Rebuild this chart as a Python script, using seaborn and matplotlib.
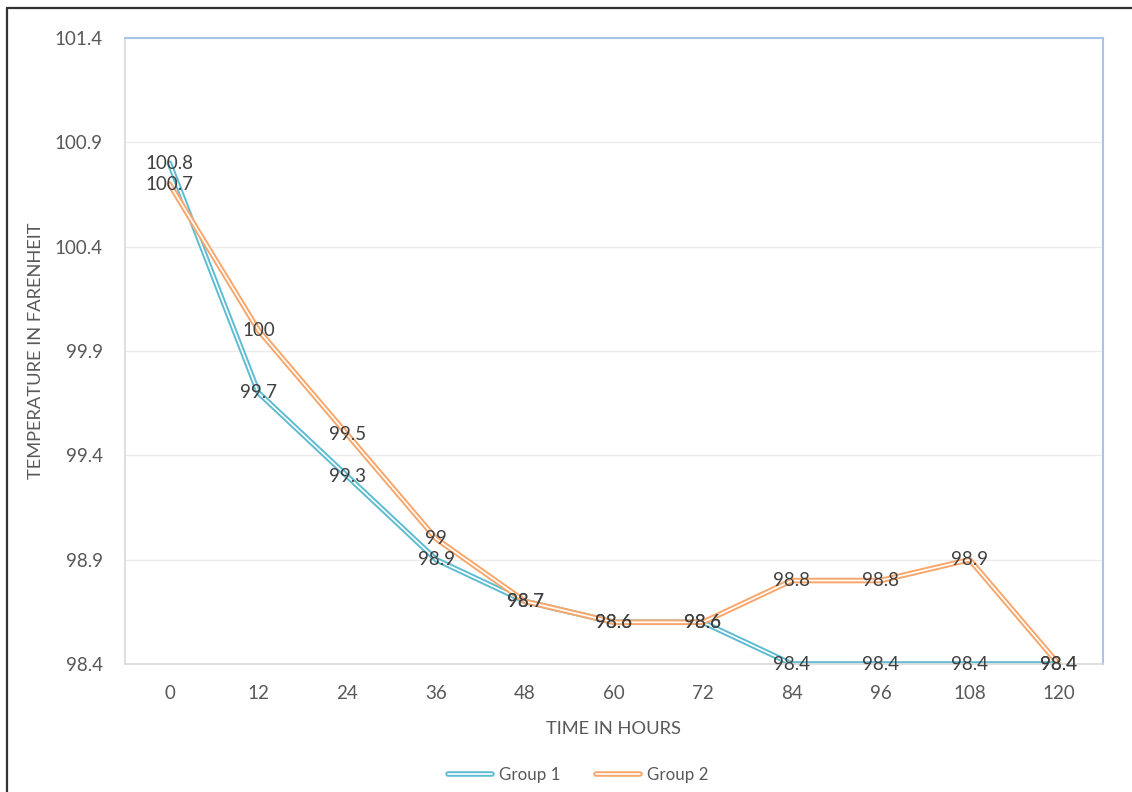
import matplotlib
matplotlib.use("Agg")
import matplotlib.pyplot as plt
import matplotlib.patheffects as pe
from matplotlib.lines import Line2D
import seaborn as sns
import pandas as pd

hours = [0, 12, 24, 36, 48, 60, 72, 84, 96, 108, 120]
group1 = [100.8, 99.7, 99.3, 98.9, 98.7, 98.6, 98.6, 98.4, 98.4, 98.4, 98.4]
group2 = [100.7, 100.0, 99.5, 99.0, 98.7, 98.6, 98.6, 98.8, 98.8, 98.9, 98.4]
y_ticks = [98.4, 98.9, 99.4, 99.9, 100.4, 100.9, 101.4]

series = {"Group 1": group1, "Group 2": group2}
colors = {"Group 1": "#5DBCD2", "Group 2": "#F8A66A"}

df = pd.DataFrame(
    [(h, v, name) for name, vals in series.items() for h, v in zip(hours, vals)],
    columns=["hours", "temp", "group"],
)

sns.set_theme(style="white")
plt.rcParams["font.family"] = ["Lato", "DejaVu Sans"]

fig = plt.figure(figsize=(11.32, 7.92), dpi=100)
ax = fig.add_axes([125 / 1132, 1 - 664 / 792, (1103 - 125) / 1132, (664 - 38) / 792])

sns.lineplot(data=df, x="hours", y="temp", hue="group", palette=colors,
             ax=ax, legend=False, sort=False)

# double-stroke lines: coloured outer stroke with a thin white core
def double_stroke(color):
    return [pe.Stroke(linewidth=4.0, foreground=color), pe.Normal()]

for line, name in zip(ax.get_lines(), series):
    line.set_color("white")
    line.set_linewidth(1.2)
    line.set_path_effects(double_stroke(colors[name]))
    line.set_solid_joinstyle("miter")

# value labels centred on each point
for name, vals in series.items():
    for h, v in zip(hours, vals):
        ax.text(h, v, f"{v:g}", ha="center", va="center", fontsize=13.5,
                color="#404040", zorder=5)

ax.set_xlim(-6, 126)
ax.set_ylim(98.4, 101.4)
ax.set_xticks(hours)
ax.set_xticklabels([str(h) for h in hours])
ax.set_yticks(y_ticks)
ax.set_yticklabels([f"{t:.1f}" for t in y_ticks])
ax.tick_params(axis="both", length=0, labelsize=13.5, colors="#595959")
ax.tick_params(axis="y", pad=16)
ax.tick_params(axis="x", pad=15)
ax.grid(axis="y", color="#EBEBEB", linewidth=1)
ax.grid(axis="x", visible=False)
ax.set_axisbelow(True)

for side in ("top", "right"):
    ax.spines[side].set_color("#A9C4E6")
    ax.spines[side].set_linewidth(1.5)
for side in ("left", "bottom"):
    ax.spines[side].set_color("#D9D9D9")
    ax.spines[side].set_linewidth(1.2)

ax.set_xlabel("TIME IN HOURS", fontsize=13.2, color="#595959", labelpad=14)
ax.set_ylabel("TEMPERATURE IN FARENHEIT", fontsize=13.2, color="#595959", labelpad=8)

handles = [Line2D([], [], color="white", linewidth=1.2, label=name,
                  path_effects=double_stroke(colors[name])) for name in series]
fig.legend(handles=handles, loc="center", bbox_to_anchor=(578 / 1132, 1 - 775 / 792), ncol=2,
           frameon=False, fontsize=12.2, handlelength=2.6, columnspacing=2.1,
           handletextpad=0.4, labelcolor="#595959")

# outer frame on the left and top edges
fig.add_artist(Line2D([7 / 1132, 7 / 1132], [0, 1 - 8 / 792], transform=fig.transFigure,
                      color="#333333", linewidth=1.6))
fig.add_artist(Line2D([7 / 1132, 1], [1 - 8 / 792, 1 - 8 / 792], transform=fig.transFigure,
                      color="#333333", linewidth=1.6))

fig.savefig("out.png", dpi=100)
